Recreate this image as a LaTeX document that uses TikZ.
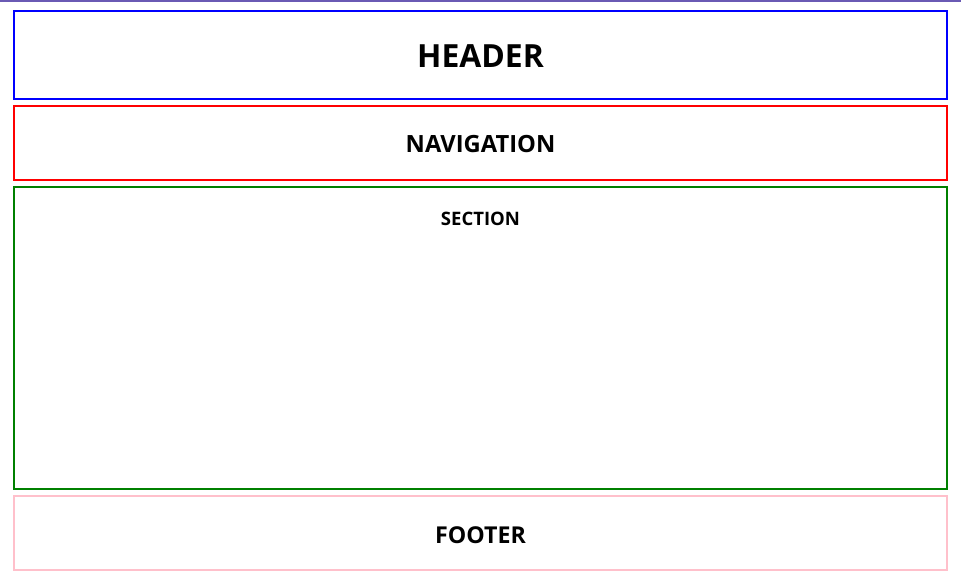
\documentclass[tikz,border=0pt]{standalone}
\usepackage{fontspec}
\setmainfont{Open Sans}
\definecolor{topbar}{RGB}{106,90,180}
\definecolor{webgreen}{RGB}{0,128,0}
\definecolor{webpink}{RGB}{255,192,203}
\tikzset{
  region/.style={draw=#1, line width=1.5bp},
  label/.style={font=\bfseries, inner sep=0pt, anchor=center}
}

\begin{document}
\begin{tikzpicture}[x=1bp, y=-1bp]
\def\lx{14}
\def\rx{947}

\useasboundingbox[fill=white] (0,0) rectangle (961,581);
\fill[topbar] (0,0) rectangle (961,2);

% page regions
\draw[region=blue] (\lx,11) rectangle (\rx,99);
\node[label, font=\bfseries\fontsize{32}{38}\selectfont] (header) at (480.5,56) {HEADER};

\draw[region=red] (\lx,106) rectangle (\rx,180);
\node[label, font=\bfseries\fontsize{23.8}{28}\selectfont] (nav) at (480.5,144.5) {NAVIGATION};

\draw[region=webgreen] (\lx,187) rectangle (\rx,489);
\node[label, font=\bfseries\fontsize{18.6}{22}\selectfont] (section) at (480.5,219) {SECTION};

\draw[region=webpink] (\lx,496) rectangle (\rx,570);
\node[label, font=\bfseries\fontsize{23.3}{28}\selectfont] (footer) at (480.5,535) {FOOTER};
\end{tikzpicture}
\end{document}
